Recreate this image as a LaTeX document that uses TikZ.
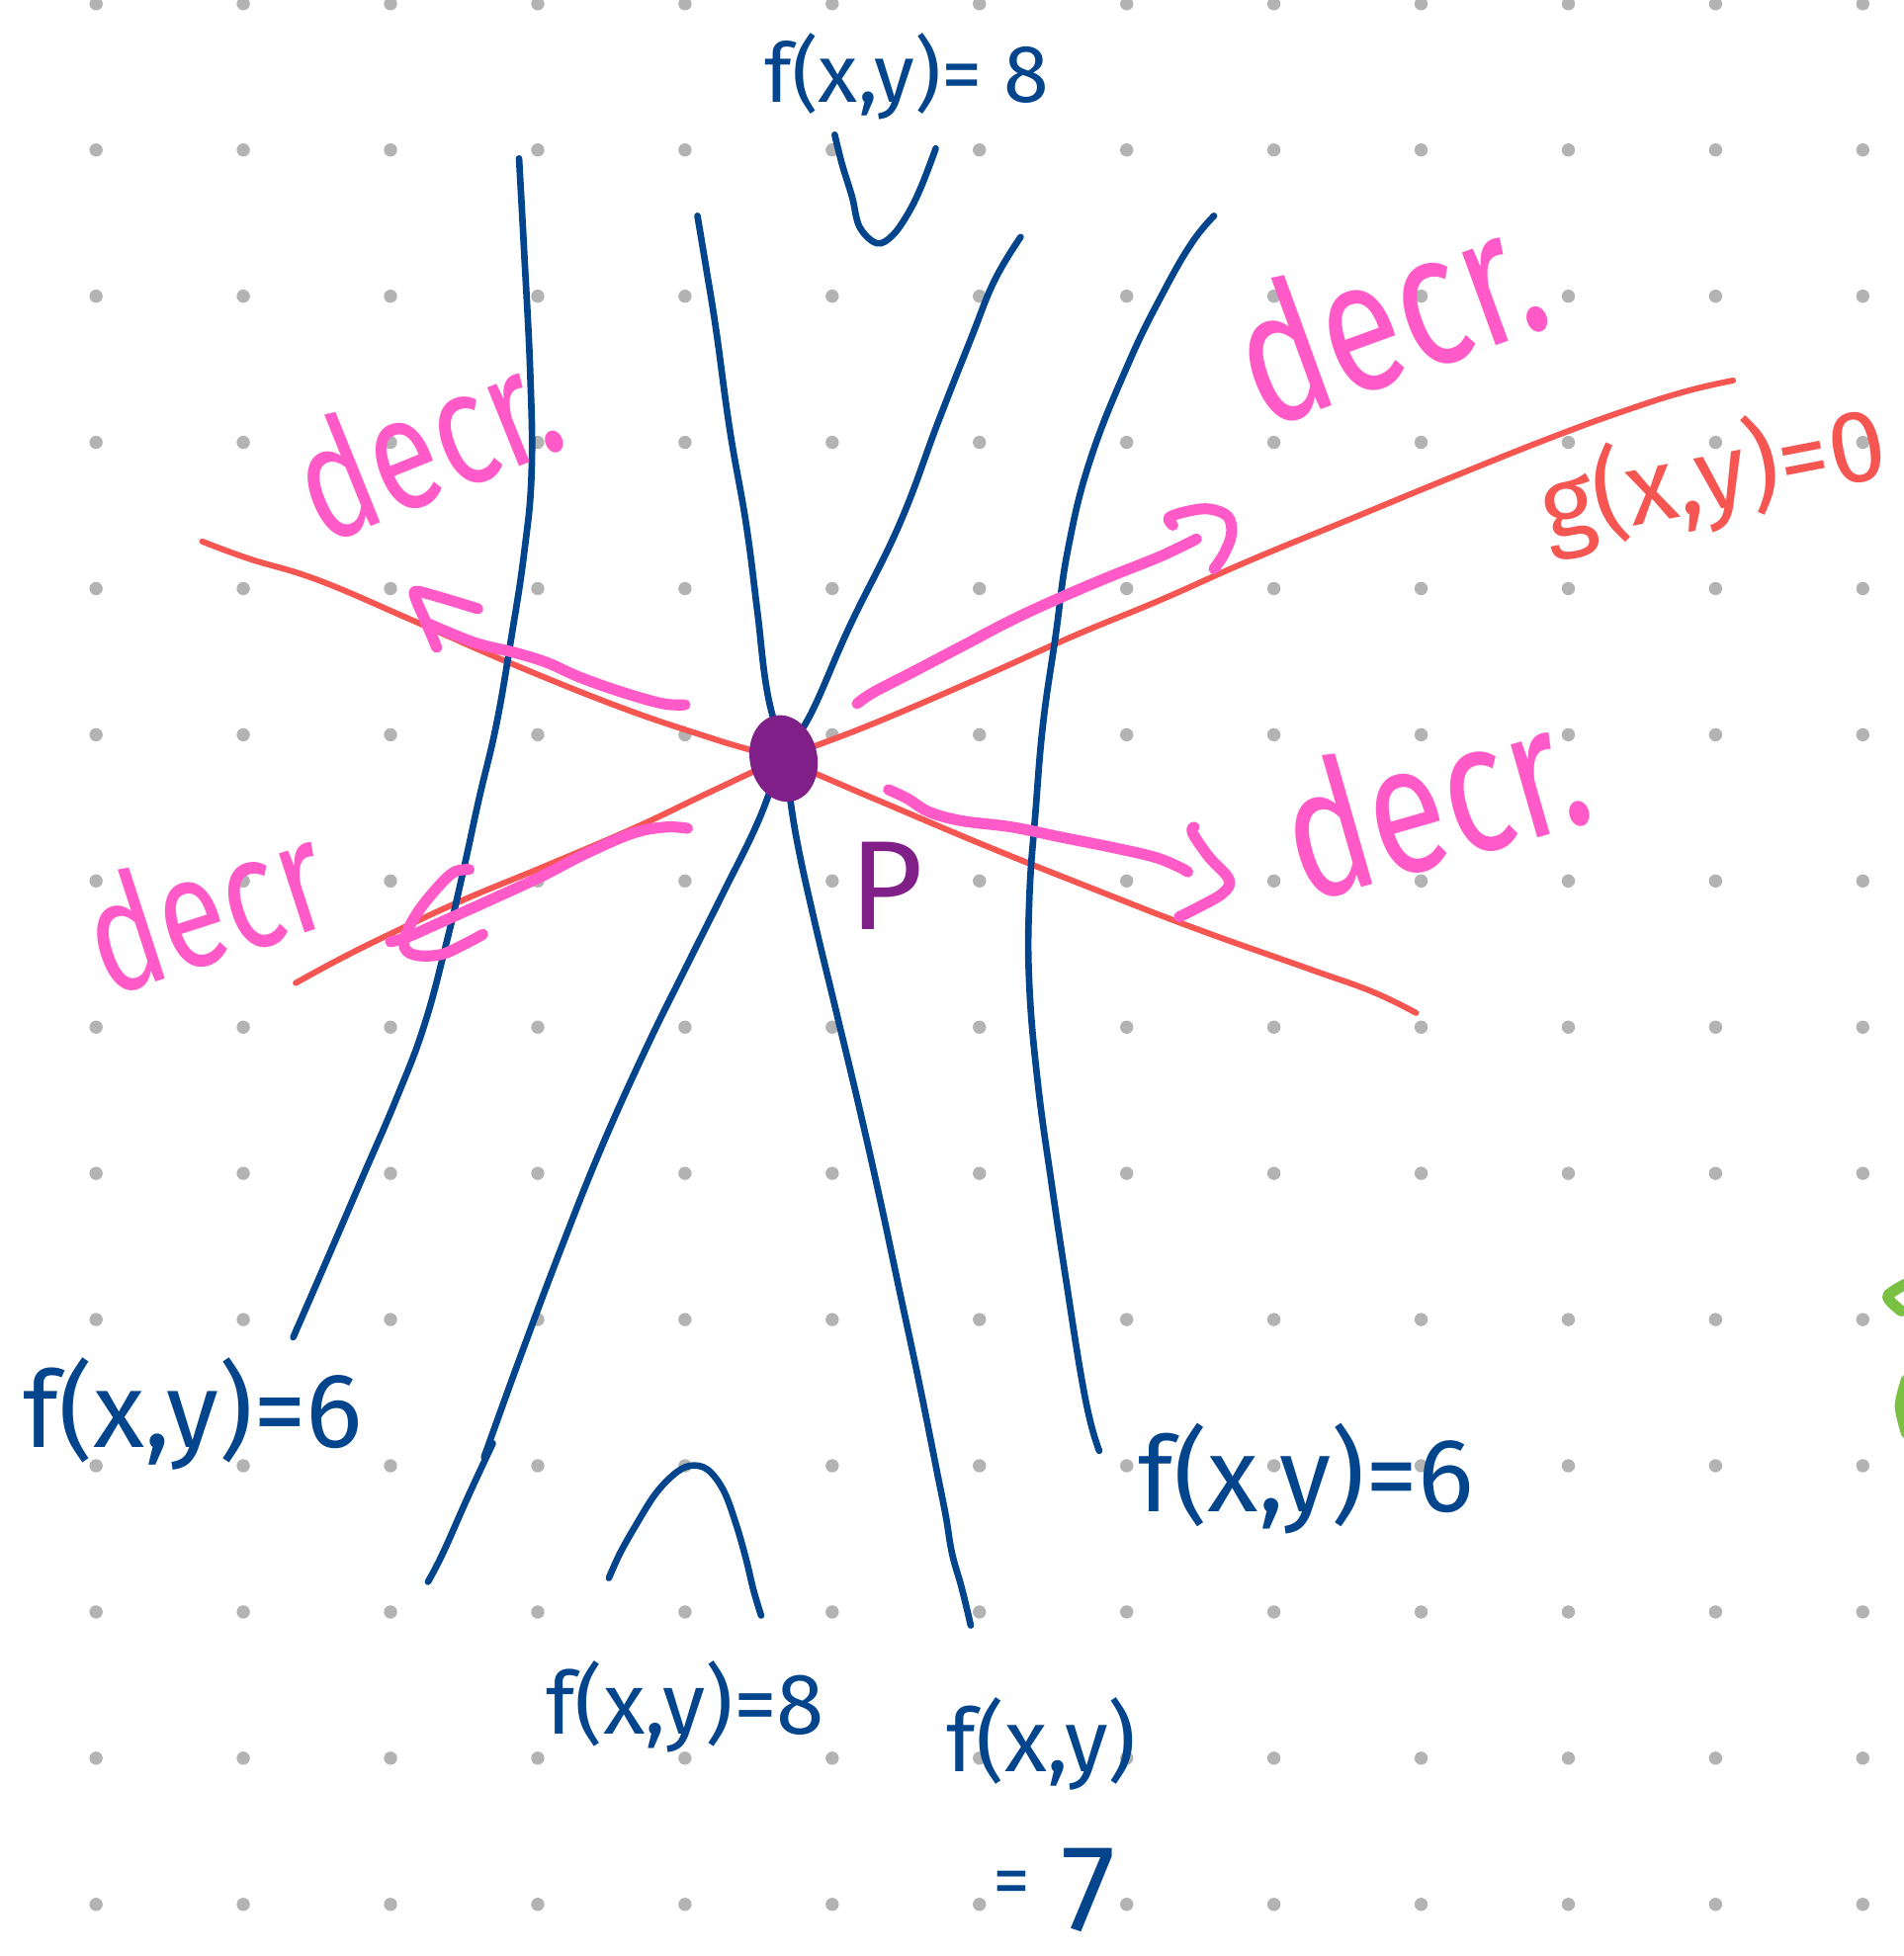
\documentclass[tikz,border=0pt]{standalone}
\usepackage{fontspec}
\setmainfont{Fira Sans}
\usepackage{graphicx}
\definecolor{fblue}{HTML}{03458C}
\definecolor{gred}{HTML}{F55652}
\definecolor{dpink}{HTML}{FF5AC8}
\definecolor{ppurple}{HTML}{7F1F87}
\definecolor{dotgrey}{HTML}{B3B3B3}
\definecolor{lgreen}{HTML}{7AC143}
\newcommand{\fitw}[2]{\resizebox{#1}{!}{#2}}
\tikzset{
  level/.style={draw=fblue, line width=1.5pt, line cap=round, line join=round},
  constr/.style={draw=gred, line width=1.35pt, line cap=round, line join=round},
  dirarrow/.style={draw=dpink, line width=2.5pt, line cap=round, line join=round},
  greenstroke/.style={draw=lgreen, line width=2.5pt, line cap=round, line join=round},
  lbl/.style={text=fblue, inner sep=0pt, anchor=base west},
  glbl/.style={text=gred, inner sep=0pt, anchor=base west},
  decrlbl/.style={text=dpink, inner sep=0pt, anchor=base west},
  plbl/.style={text=ppurple, inner sep=0pt, anchor=base west}
}
\begin{document}
\begin{tikzpicture}[x=0.01cm,y=-0.01cm]
\useasboundingbox (0,0) rectangle (1526,1568);
\clip (0,0) rectangle (1526,1568);
\fill[white] (0,0) rectangle (1526,1568);
% dot grid
\foreach \i in {0,...,12} {
  \foreach \j in {0,...,13} {
    \fill[dotgrey] (77+118*\i, 3+117.2*\j) circle[radius=5.3];
  }
}
% red constraint curve g(x,y)=0
\draw[constr] plot[smooth, tension=0.7] coordinates {(162,434) (200,448) (255,465) (330,497) (410,532) (500,568) (571,592) (628,610) (700,640) (790,678) (880,714) (960,745) (1050,777) (1100,795) (1135,812)};
\draw[constr] plot[smooth, tension=0.7] coordinates {(237,788) (270,770) (310,750) (370,722) (440,693) (510,663) (571,634) (628,608) (700,580) (784,544) (860,510) (930,481) (1000,450) (1080,417) (1160,384) (1240,352) (1300,330) (1350,314) (1389,305)};
% blue level curves
\draw[level] plot[smooth, tension=0.7] coordinates {(416,127) (420,200) (425,300) (426,380) (420,444) (410,510) (398,580) (384,640) (372,695) (358,755) (340,822) (318,880) (290,945) (262,1010) (235,1072)};
\draw[level] plot[smooth, tension=0.7] coordinates {(559,173) (566,215) (574,265) (585,345) (598,420) (607,490) (615,555) (628,607) (638,670) (652,735) (670,810) (688,885) (705,960) (721,1035) (737,1110) (752,1185)};
\draw[level] plot[smooth, tension=0.7] coordinates {(752,1185) (758,1215) (763,1245) (770,1270) (775,1290) (778,1303)};
\draw[level] plot[smooth, tension=0.7] coordinates {(818,190) (797,225) (778,272) (752,338) (721,420) (681,502) (650,572) (628,607) (607,660) (580,715) (550,775) (518,840) (482,920) (450,1000) (418,1085) (388,1168)};
\draw[level] plot[smooth, tension=0.7] coordinates {(395,1157) (375,1200) (355,1245) (343,1268)};
\draw[level] plot[smooth, tension=0.7] coordinates {(973,173) (955,195) (932,235) (905,290) (874,368) (856,440) (846,510) (836,580) (830,650) (825,720) (825,790) (832,870) (843,950) (855,1030) (866,1100) (874,1140) (881,1163)};
% U and arch
\draw[level] plot[smooth, tension=0.6] coordinates {(669,108) (675,132) (683,158) (689,182) (703,195) (716,188) (729,169) (739,148) (750,119)};
\draw[level] plot[smooth, tension=0.6] coordinates {(488,1265) (497,1245) (510,1222) (525,1198) (540,1182) (553,1175) (567,1178) (580,1195) (590,1222) (598,1250) (604,1275) (610,1295)};
% pink arrows
\draw[dirarrow] plot[smooth, tension=0.6] coordinates {(549,565) (531,564) (499,555) (465,543) (438,531) (412,523) (380,515) (341,499)};
\draw[dirarrow] plot[smooth, tension=0.5] coordinates {(383,488) (350,478) (333,474) (334,482) (342,500) (350,519)};
\draw[dirarrow] plot[smooth, tension=0.6] coordinates {(551,664) (533,663) (507,668) (470,684) (433,703) (394,721) (354,739) (327,751) (313,755)};
\draw[dirarrow] plot[smooth, tension=0.6] coordinates {(376,697) (364,699) (351,711) (335,731) (325,750) (325,761) (335,766) (354,765) (372,757) (387,749)};
\draw[dirarrow] plot[smooth, tension=0.6] coordinates {(687,564) (700,555) (731,539) (771,518) (811,497) (850,479) (890,462) (930,446) (959,432)};
\draw[dirarrow] plot[smooth, tension=0.6] coordinates {(940,421) (937,415) (951,410) (969,408) (984,414) (987,428) (981,444) (973,456)};
\draw[dirarrow] plot[smooth, tension=0.6] coordinates {(712,633) (727,640) (745,651) (771,658) (811,663) (850,671) (890,679) (925,687) (945,695) (952,699)};
\draw[dirarrow] plot[smooth, tension=0.6] coordinates {(957,663) (956,668) (969,687) (985,705) (980,716) (961,727) (945,735)};
% point P
\coordinate (P) at (628,608);
\fill[ppurple, rotate around={12:(P)}] (P) ellipse[x radius=27, y radius=35];
\node[plbl] (Plabel) at (680,745) {\resizebox{!}{0.7cm}{P}};
% green fragments at right edge
\draw[greenstroke] plot[smooth] coordinates {(1530,1028) (1513,1039) (1524,1051)};
\draw[greenstroke] plot[smooth] coordinates {(1528,1106) (1523,1127) (1528,1149)};
% pink labels
\node[decrlbl, rotate=22] (d1) at (258,438) {\fitw{2.15cm}{\scalebox{1}[1.3]{decr.}}};
\node[decrlbl, rotate=20] (d2) at (1012,345) {\fitw{2.5cm}{\scalebox{1}[1.3]{decr.}}};
\node[decrlbl, rotate=16] (d3) at (1045,725) {\fitw{2.45cm}{\scalebox{1}[1.3]{decr.}}};
\node[decrlbl, rotate=18] (d4) at (85,800) {\fitw{1.95cm}{\scalebox{1}[1.3]{decr}}};
% blue labels
\node[lbl] (f8top) at (612,82) {\fitw{2.28cm}{f(x,y)= 8}};
\node[lbl] (f6left) at (18,1160) {\fitw{2.72cm}{f(x,y)=6}};
\node[lbl] (f6right) at (912,1212) {\fitw{2.68cm}{f(x,y)=6}};
\node[lbl] (f8bot) at (437,1390) {\fitw{2.23cm}{f(x,y)=8}};
\node[lbl] (f7a) at (758,1420) {\fitw{1.52cm}{f(x,y)}};
\node[lbl] (f7b) at (795,1548) {\raisebox{0.2cm}{\fitw{0.3cm}{=}}\hspace{0.25cm}\resizebox{!}{0.66cm}{7}};
% red label
\node[glbl, rotate=11] (glabel) at (1240,435) {\fitw{2.8cm}{g(x,y)=0}};
\end{tikzpicture}
\end{document}
